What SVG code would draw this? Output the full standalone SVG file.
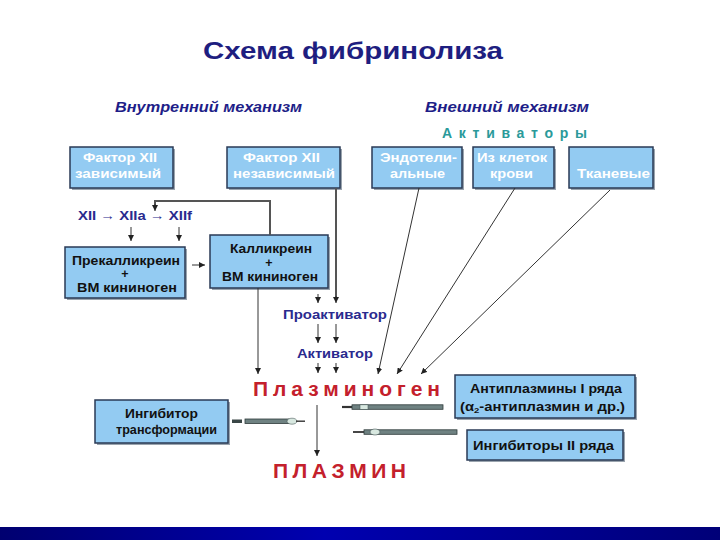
<svg xmlns="http://www.w3.org/2000/svg" width="720" height="540" viewBox="0 0 720 540">
<defs>
<style>
.t{font-family:"Liberation Sans",Arial,sans-serif;font-weight:bold}
.box{fill:#93cbf2;stroke:#2a3a55;stroke-width:1.5}
.sh{fill:#9aa4ae}
.wt{fill:#ffffff;font-size:12.5px}
.bk{fill:#111111;font-size:12.5px}
.nv{fill:#2a2a8e;font-size:12.5px}
.hd{fill:#1e1e88;font-size:14px;font-style:italic}
.rd{fill:#c4202c;font-size:21px}
.ln{stroke:#333;stroke-width:1;fill:none}
.ln2{stroke:#555;stroke-width:2;fill:none}
.pin{fill:#6f8282;stroke:#2e3a3a;stroke-width:0.8}
.pinl{fill:#d8e8e0;stroke:#4a5a5a;stroke-width:0.6}
</style>
<marker id="a" markerUnits="userSpaceOnUse" markerWidth="6" markerHeight="6" refX="6" refY="3" orient="auto"><path d="M0,0 L6,3 L0,6 z" fill="#222"/></marker>
<linearGradient id="bar" x1="0" y1="0" x2="1" y2="0">
<stop offset="0" stop-color="#000070"/><stop offset="0.45" stop-color="#0000b0"/><stop offset="1" stop-color="#000078"/>
</linearGradient>
</defs>
<rect width="720" height="540" fill="#ffffff"/>
<text class="t" x="203" y="59" font-size="24" fill="#1e1e80" textLength="300" lengthAdjust="spacingAndGlyphs">Схема фибринолиза</text>
<text class="t hd" x="115" y="112" textLength="187" lengthAdjust="spacingAndGlyphs">Внутренний механизм</text>
<text class="t hd" x="425" y="112" textLength="164" lengthAdjust="spacingAndGlyphs">Внешний механизм</text>
<text class="t" x="442" y="138" font-size="14" fill="#2a9a9a" textLength="145" lengthAdjust="spacing">Активаторы</text>

<g id="f12dep"><rect class="sh" x="72" y="149" width="103" height="41"/><rect class="box" x="70" y="147" width="103" height="41"/>
<text class="t wt" x="83" y="162" textLength="74" lengthAdjust="spacingAndGlyphs">Фактор XII</text><text class="t wt" x="75" y="178" textLength="86" lengthAdjust="spacingAndGlyphs">зависимый</text></g>
<g id="f12ind"><rect class="sh" x="229" y="149" width="113" height="41"/><rect class="box" x="227" y="147" width="113" height="41"/>
<text class="t wt" x="243" y="162" textLength="77" lengthAdjust="spacingAndGlyphs">Фактор XII</text><text class="t wt" x="233" y="178" textLength="102" lengthAdjust="spacingAndGlyphs">независимый</text></g>
<g id="endo"><rect class="sh" x="374" y="149" width="90" height="41"/><rect class="box" x="372" y="147" width="90" height="41"/>
<text class="t wt" x="380" y="162" textLength="77" lengthAdjust="spacingAndGlyphs">Эндотели-</text><text class="t wt" x="390" y="178" textLength="55" lengthAdjust="spacingAndGlyphs">альные</text></g>
<g id="blood"><rect class="sh" x="475" y="149" width="81" height="41"/><rect class="box" x="473" y="147" width="81" height="41"/>
<text class="t wt" x="477" y="162" textLength="70" lengthAdjust="spacingAndGlyphs">Из клеток</text><text class="t wt" x="490" y="178" textLength="43" lengthAdjust="spacingAndGlyphs">крови</text></g>
<g id="tissue"><rect class="sh" x="571" y="149" width="84" height="41"/><rect class="box" x="569" y="147" width="84" height="41"/>
<text class="t wt" x="577" y="178" textLength="73" lengthAdjust="spacingAndGlyphs">Тканевые</text></g>

<g id="xii"><text class="t nv" x="78" y="220" textLength="114" lengthAdjust="spacingAndGlyphs">XII <tspan font-weight="normal">→</tspan> XIIa <tspan font-weight="normal">→</tspan> XIIf</text></g>

<g id="prekal"><rect class="sh" x="67" y="249" width="120" height="51"/><rect class="box" x="65" y="247" width="120" height="51"/>
<text class="t bk" x="72" y="265" textLength="108" lengthAdjust="spacingAndGlyphs">Прекалликреин</text><text class="t bk" x="125" y="278" text-anchor="middle">+</text><text class="t bk" x="77" y="292" textLength="100" lengthAdjust="spacingAndGlyphs">ВМ кининоген</text></g>
<g id="kal"><rect class="sh" x="212" y="237" width="118" height="53"/><rect class="box" x="210" y="235" width="118" height="53"/>
<text class="t bk" x="230" y="253" textLength="82" lengthAdjust="spacingAndGlyphs">Калликреин</text><text class="t bk" x="269" y="267" text-anchor="middle">+</text><text class="t bk" x="222" y="281" textLength="96" lengthAdjust="spacingAndGlyphs">ВМ кининоген</text></g>

<g id="proact"><text class="t nv" x="283" y="319" textLength="104" lengthAdjust="spacingAndGlyphs">Проактиватор</text></g>
<g id="act"><text class="t nv" x="297" y="358" textLength="76" lengthAdjust="spacingAndGlyphs">Активатор</text></g>
<g id="plg"><text class="t rd" x="253" y="396" textLength="187" lengthAdjust="spacing">Плазминоген</text></g>
<g id="plm"><text class="t rd" x="273" y="478" textLength="133" lengthAdjust="spacing">ПЛАЗМИН</text></g>

<g id="anti1"><rect class="sh" x="457" y="377" width="180" height="43"/><rect class="box" x="455" y="375" width="180" height="43"/>
<text class="t bk" x="470" y="393" textLength="152" lengthAdjust="spacingAndGlyphs">Антиплазмины I ряда</text><text class="t bk" x="460" y="411" textLength="165" lengthAdjust="spacingAndGlyphs">(α<tspan font-size="8" dy="2">2</tspan><tspan dy="-2">-антиплазмин и др.)</tspan></text></g>
<g id="anti2"><rect class="sh" x="469" y="432" width="156" height="30"/><rect class="box" x="467" y="430" width="156" height="30"/>
<text class="t bk" x="473" y="450" textLength="141" lengthAdjust="spacingAndGlyphs">Ингибиторы II ряда</text></g>
<g id="inhtr"><rect class="sh" x="97" y="402" width="133" height="43"/><rect class="box" x="95" y="400" width="133" height="43"/>
<text class="t bk" x="125" y="418" textLength="73" lengthAdjust="spacingAndGlyphs">Ингибитор</text><text class="t bk" x="116" y="434" textLength="101" lengthAdjust="spacingAndGlyphs">трансформации</text></g>

<g id="connectors">
<line class="ln" x1="131" y1="227" x2="131" y2="241" marker-end="url(#a)"/>
<line class="ln" x1="179" y1="227" x2="179" y2="241" marker-end="url(#a)"/>
<line class="ln" x1="192" y1="265" x2="205" y2="265" marker-end="url(#a)"/>
<polyline class="ln2" points="270,235 270,201 155,201 155,205"/>
<line class="ln" x1="155" y1="204" x2="155" y2="211" marker-end="url(#a)"/>
<line class="ln2" x1="336" y1="188" x2="336" y2="298"/>
<line class="ln" x1="336" y1="296" x2="336" y2="303" marker-end="url(#a)"/>
<line class="ln" x1="318" y1="294" x2="318" y2="303" marker-end="url(#a)"/>
<line class="ln" x1="318" y1="324" x2="318" y2="343" marker-end="url(#a)"/>
<line class="ln" x1="336" y1="324" x2="336" y2="343" marker-end="url(#a)"/>
<line class="ln" x1="318" y1="363" x2="318" y2="373" marker-end="url(#a)"/>
<line class="ln" x1="336" y1="363" x2="336" y2="373" marker-end="url(#a)"/>
<line class="ln" x1="258" y1="288" x2="258" y2="374" marker-end="url(#a)"/>
<line class="ln" x1="419" y1="188" x2="378" y2="374" marker-end="url(#a)"/>
<line class="ln" x1="515" y1="188" x2="397" y2="374" marker-end="url(#a)"/>
<line class="ln" x1="610" y1="190" x2="421" y2="374" marker-end="url(#a)"/>
<line class="ln" x1="317" y1="405" x2="317" y2="456" marker-end="url(#a)"/>
<g id="pin1">
<rect x="232" y="419.5" width="10" height="3.5" fill="#3a4646"/>
<rect class="pin" x="245" y="419" width="44" height="4.5"/>
<ellipse class="pinl" cx="292" cy="421.2" rx="5" ry="3"/>
<line x1="296" y1="421.2" x2="305" y2="421.2" stroke="#333" stroke-width="1.4"/>
</g>
<g id="pin2">
<line x1="342" y1="407" x2="352" y2="407" stroke="#333" stroke-width="2.2"/>
<rect class="pin" x="352" y="404.8" width="91" height="4.5"/>
<rect class="pinl" x="360" y="404.8" width="8" height="4.5"/>
</g>
<g id="pin3">
<line x1="353" y1="432" x2="364" y2="432" stroke="#333" stroke-width="1.8"/>
<rect class="pin" x="364" y="429.8" width="93" height="4.5"/>
<ellipse class="pinl" cx="375" cy="432" rx="5" ry="3"/>
</g>
</g>
<rect x="0" y="527" width="720" height="13" fill="url(#bar)"/>
</svg>
